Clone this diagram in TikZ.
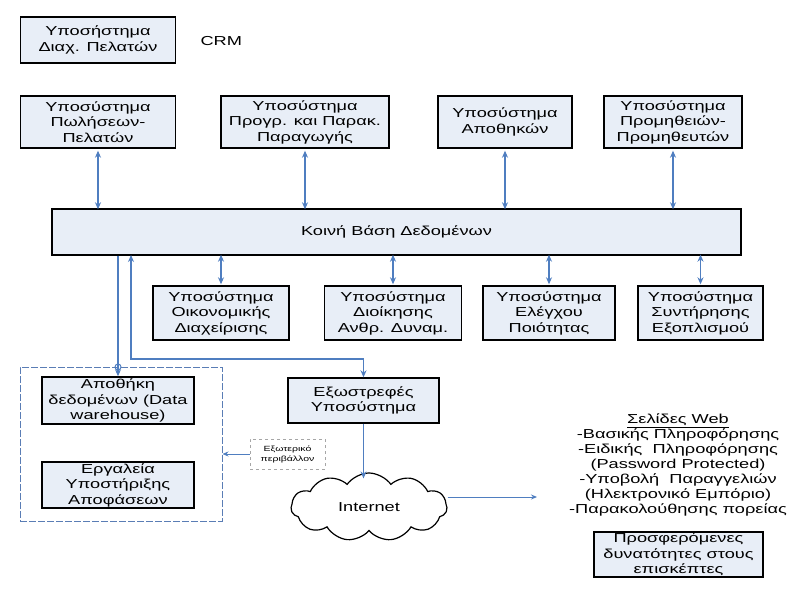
\documentclass[tikz,border=0pt]{standalone}
\usepackage{fontspec}
\setmainfont[FakeStretch=1.4]{Liberation Sans}
\usetikzlibrary{arrows.meta,shapes.symbols}
\definecolor{boxfill}{HTML}{E8EEF7}
\definecolor{linkblue}{HTML}{4F7EC0}
\definecolor{dashblue}{HTML}{5A7DB5}
\tikzset{
  sysbox/.style={draw=black, line width=1.4pt, fill=boxfill, align=center, inner sep=0pt,
    font=\fontsize{13}{15.5}\selectfont},
  link/.style={draw=linkblue, line width=1.6pt, {Stealth[length=7pt,width=6pt]}-{Stealth[length=7pt,width=6pt]}},
  onelink/.style={draw=linkblue, line width=1.6pt, -{Stealth[length=7pt,width=6pt]}},
  thinlink/.style={draw=linkblue, line width=0.9pt, -{Stealth[length=6pt,width=5pt]}},
  groupbox/.style={draw=dashblue, line width=1pt, dash pattern=on 7pt off 2pt, inner sep=0pt},
  envbox/.style={draw=gray!70, line width=0.8pt, dash pattern=on 3pt off 3pt, align=center, inner sep=0pt,
    font=\fontsize{7.5}{10}\selectfont},
}
\begin{document}
\begin{tikzpicture}[x=1pt,y=-1pt]
\useasboundingbox (0,0) rectangle (794,593);
% top row
\node[sysbox, minimum width=155pt, minimum height=46pt] (crm) at (98,40) {Υποσήστημα\\Διαχ. Πελατών};
\node[font=\fontsize{13}{15}\selectfont, anchor=west] (crmlbl) at (197,41) {CRM};
\node[sysbox, minimum width=155pt, minimum height=52pt] (sales) at (98,122) {Υποσύστημα\\Πωλήσεων-\\Πελατών};
\node[sysbox, minimum width=168pt, minimum height=52pt] (prod) at (305,122) {Υποσύστημα\\Προγρ. και Παρακ.\\Παραγωγής};
\node[sysbox, minimum width=134pt, minimum height=52pt] (ware) at (505,122) {Υποσύστημα\\Αποθηκών};
\node[sysbox, minimum width=138pt, minimum height=52pt] (supp) at (673,122) {Υποσύστημα\\Προμηθειών-\\Προμηθευτών};
% database
\node[sysbox, minimum width=689pt, minimum height=46pt] (db) at (396.5,232) {Κοινή Βάση Δεδομένων};
% second row
\node[sysbox, minimum width=136pt, minimum height=54pt] (fin) at (221,313) {Υποσύστημα\\Οικονομικής\\Διαχείρισης};
\node[sysbox, minimum width=137pt, minimum height=54pt] (hr) at (393,313) {Υποσύστημα\\Διοίκησης\\Ανθρ. Δυναμ.};
\node[sysbox, minimum width=132pt, minimum height=54pt] (qc) at (549,313) {Υποσύστημα\\Ελέγχου\\Ποιότητας};
\node[sysbox, minimum width=125pt, minimum height=54pt] (maint) at (700.5,313) {Υποσύστημα\\Συντήρησης\\Εξοπλισμού};
% lower left group
\node[groupbox, minimum width=202pt, minimum height=154pt] (grp) at (121,444) {};
\node[sysbox, minimum width=152pt, minimum height=47pt] (dw) at (118,400.5) {Αποθήκη\\δεδομένων (Data\\warehouse)};
\node[sysbox, minimum width=152pt, minimum height=46pt] (dss) at (118,485) {Εργαλεία\\Υποστήριξης\\Αποφάσεων};
\node[envbox, minimum width=75pt, minimum height=30pt] (env) at (287.5,454) {Εξωτερικό\\περιβάλλον};
% external system and internet
\node[sysbox, minimum width=151pt, minimum height=45pt] (ext) at (363.5,400.5) {Εξωστρεφές\\Υποσύστημα};
\node[cloud, cloud puffs=11, cloud puff arc=110, aspect=2.3, draw=black, line width=1.2pt, fill=white,
  minimum width=156pt, minimum height=68pt, inner sep=0pt, font=\fontsize{13}{15}\selectfont] (net) at (369,507) {Internet};
% web pages text
\node[align=center, font=\fontsize{13}{15}\selectfont] (web) at (678,465)
  {\underline{Σελίδες Web}\\-Βασικής Πληροφόρησης\\-Ειδικής\ \ Πληροφόρησης\\(Password Protected)\\-Υποβολή\ \ Παραγγελιών\\(Ηλεκτρονικό Εμπόριο)\\-Παρακολούθησης πορείας};
\node[sysbox, minimum width=169pt, minimum height=45pt] (offer) at (678.5,554.5) {Προσφερόμενες\\δυνατότητες στους\\επισκέπτες};
% connectors
\foreach \n in {sales,prod,ware,supp}{
  \draw[link] ([yshift=-2pt]\n.south) -- ([yshift=-1pt]\n.south |- db.north);
}
\foreach \n in {fin,hr,qc,maint}{
  \draw[link] ([yshift=1pt]\n.south |- db.south) -- ([yshift=1pt]\n.north);
}
\draw[onelink] (db.south -| dw.north) -- (dw.north);
\draw[draw=linkblue, line width=1pt, fill=none] (118,367) circle (3pt);
\coordinate (dbin) at (131,255);
\coordinate (bend) at (131,359);
\draw[link] (dbin) -- (bend) -| (ext.north);
\draw[onelink] (ext.south) -- ([yshift=-6pt]ext.south |- net.north);
\draw[thinlink] (env.west) -- (env.west -| grp.east);
\coordinate (webend) at (537,497);
\draw[thinlink] (net.east |- webend) -- (webend);
\end{tikzpicture}
\end{document}
